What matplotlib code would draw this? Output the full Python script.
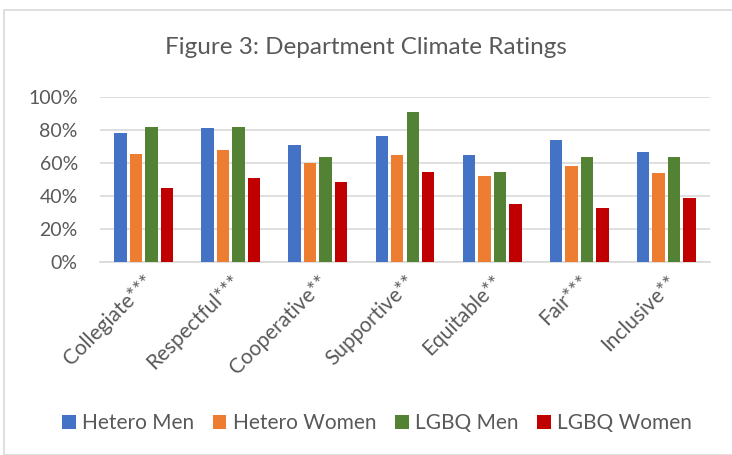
import numpy as np
import matplotlib.pyplot as plt
from matplotlib.patches import Rectangle

plt.rcParams['font.family'] = ['Lato', 'DejaVu Sans']

categories = ["Collegiate***", "Respectful***", "Cooperative**", "Supportive**",
              "Equitable**", "Fair***", "Inclusive**"]
series = ["Hetero Men", "Hetero Women", "LGBQ Men", "LGBQ Women"]
hetero_men = [78.2, 81.4, 70.8, 76.1, 64.7, 74.1, 66.5]
hetero_women = [65.5, 68.0, 60.2, 65.1, 52.0, 58.2, 53.7]
lgbq_men = [81.8, 81.8, 63.5, 90.8, 54.5, 63.5, 63.5]
lgbq_women = [45.1, 51.2, 48.2, 54.5, 35.3, 32.9, 38.6]
colors = ["#4472C4", "#ED7D31", "#548235", "#C00000"]

values = [hetero_men, hetero_women, lgbq_men, lgbq_women]
text_color = "#595959"

fig = plt.figure(figsize=(7.32, 4.55), dpi=100)
fig.patches.append(Rectangle((4 / 732, 0), 1, 1 - 10 / 455, transform=fig.transFigure,
                             fill=False, edgecolor="#D9D9D9", linewidth=1.2))
ax = fig.add_axes([100 / 732, 1 - 262 / 455, 610 / 732, 165 / 455])

x = np.arange(len(categories))
w = 0.143
step = 0.178
for i, (name, vals) in enumerate(zip(series, values)):
    ax.bar(x + (i - 1.5) * step, vals, width=w, color=colors[i], label=name, zorder=3)

ax.set_xlim(-0.5, len(categories) - 0.5)
ax.set_ylim(0, 100)
ax.set_yticks(np.arange(0, 101, 20))
ax.set_yticklabels([f"{v}%" for v in range(0, 101, 20)])
ax.yaxis.grid(True, color="#D9D9D9", linewidth=1.2, zorder=0)
ax.set_xticks(x)
ax.set_xticklabels(categories, rotation=45, ha="right", rotation_mode="anchor")
for s in ["top", "right", "left"]:
    ax.spines[s].set_visible(False)
ax.spines["bottom"].set_color("#D9D9D9")
ax.spines["bottom"].set_linewidth(1.2)
ax.tick_params(axis="y", length=0, labelsize=14, colors=text_color, pad=16)
ax.tick_params(axis="x", length=0, labelsize=15, colors=text_color, pad=7)

fig.text(0.5, 1 - 48 / 455, "Figure 3: Department Climate Ratings", ha="center", va="center",
         fontsize=17.5, color=text_color)

ax.legend(loc="center", bbox_to_anchor=(0.5 - 28 / 610, (262 - 423) / 165), ncol=4,
          frameon=False, fontsize=15, labelcolor=text_color, handlelength=0.65,
          handleheight=0.65, handletextpad=0.3, columnspacing=0.9, bbox_transform=ax.transAxes)

fig.savefig("out.png", dpi=100)
